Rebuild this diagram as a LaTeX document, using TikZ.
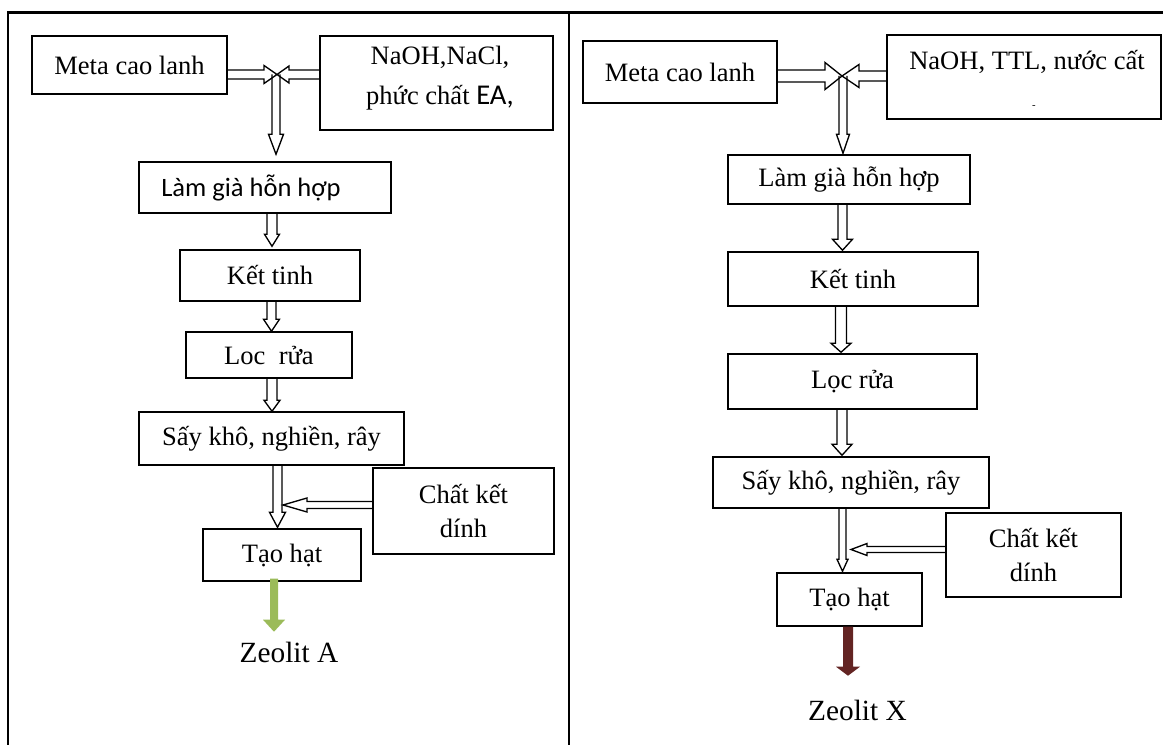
\documentclass[tikz,border=0pt]{standalone}
\usepackage{fontspec}
\setmainfont{Liberation Serif}
\newfontfamily\calibrifont{Carlito}
\usetikzlibrary{calc}
\definecolor{zgreen}{RGB}{155,187,89}
\definecolor{zred}{RGB}{99,36,35}
\newcommand\fs{\fontsize{19.9}{26}\selectfont}
% hollow block arrows: [style]{from}{tip}{shaft half}{head half}{head length} (px)
\newcommand\arrdown[6][]{\draw[hol,#1] let \p1=#2, \p2=#3 in
 (\x2-#4*0.75pt,\y1) -- (\x2-#4*0.75pt,\y2+#6*0.75pt) -- (\x2-#5*0.75pt,\y2+#6*0.75pt) -- (\x2,\y2)
 -- (\x2+#5*0.75pt,\y2+#6*0.75pt) -- (\x2+#4*0.75pt,\y2+#6*0.75pt) -- (\x2+#4*0.75pt,\y1);}
\newcommand\arrright[6][]{\draw[hol,#1] let \p1=#2, \p2=#3 in
 (\x1,\y2+#4*0.75pt) -- (\x2-#6*0.75pt,\y2+#4*0.75pt) -- (\x2-#6*0.75pt,\y2+#5*0.75pt) -- (\x2,\y2)
 -- (\x2-#6*0.75pt,\y2-#5*0.75pt) -- (\x2-#6*0.75pt,\y2-#4*0.75pt) -- (\x1,\y2-#4*0.75pt);}
\newcommand\arrleft[6][]{\draw[hol,#1] let \p1=#2, \p2=#3 in
 (\x1,\y2+#4*0.75pt) -- (\x2+#6*0.75pt,\y2+#4*0.75pt) -- (\x2+#6*0.75pt,\y2+#5*0.75pt) -- (\x2,\y2)
 -- (\x2+#6*0.75pt,\y2-#5*0.75pt) -- (\x2+#6*0.75pt,\y2-#4*0.75pt) -- (\x1,\y2-#4*0.75pt);}
\begin{document}
\begin{tikzpicture}[x=0.75pt,y=-0.75pt,
  box/.style={draw, line width=1.1pt, inner sep=0pt, font=\fs, align=center},
  bx/.style n args={2}{minimum width=#1*0.75pt, minimum height=#2*0.75pt},
  txt/.style={inner sep=0pt, font=\fs, align=center},
  hol/.style={line width=1pt, line join=miter},
  frame/.style={line width=1.6pt},
  res/.style={inner sep=0pt, font=\fontsize{22}{26}\selectfont}]
\useasboundingbox (0,0) rectangle (1163,745);
\fill[white] (0,0) rectangle (1163,745);
% frame
\draw[frame] (8,745) -- (8,12.5) -- (1163,12.5);
\draw[frame] (569,12.5) -- (569,745);

% ---------- left panel ----------
\node[box,bx={195}{58}] (mA) at (129.5,65) {Meta cao lanh};
\node[box,bx={233}{94}] (nA) at (436.5,83) {};
\node[txt,font=\fontsize{19.9}{30}\selectfont] (nAt) at (440,78) {NaOH,NaCl,\\phức chất {\calibrifont\fontsize{21.5}{30}\selectfont EA,}};
\node[box,bx={252}{51}] (lA) at (265,187.5) {\calibrifont Làm già hỗn hợp\hspace*{21pt}};
\node[box,bx={180}{51}] (kA) at (270,275.5) {Kết tinh};
\node[box,bx={166}{46}] (rA) at (269,355) {Loc~~rửa};
\node[box,bx={265}{53}] (sA) at (271.5,438.5) {Sấy khô, nghiền, rây};
\node[box,bx={181}{86}] (cA) at (463.5,511) {Chất kết\\dính};
\node[box,bx={158}{52}] (tA) at (282,555) {Tạo hạt};
\node[res] (zA) at (289,652) {Zeolit A};
\coordinate (jA) at (277,74.5);
\coordinate (jA2) at (283,505);

\arrdown{(jA)}{($(lA.north)+(11,-7)$)}{4}{7.5}{20}
\arrright{(mA.east)}{(jA)}{4.5}{9}{13}
\arrleft{(nA.west)}{(jA)}{4.5}{8.5}{12}
\arrdown{(lA.south)}{($(kA.north)+(2,-3)$)}{5}{7.5}{12}
\arrdown{(kA.south)}{($(rA.north)+(2.5,0)$)}{4.5}{8}{12}
\arrdown{(rA.south)}{($(sA.north)+(0.5,0)$)}{5}{8}{11}
\arrdown{(sA.south)}{($(tA.north)+(-4.5,-1)$)}{4.5}{8}{15}
\arrleft{(cA.west)}{(jA2)}{3.5}{7}{24}
\arrdown[draw=none,fill=zgreen]{($(tA.south)+(0,-3)$)}{($(tA.south)+(-8,50)$)}{4}{11}{12}

% ---------- right panel ----------
\node[box,bx={194}{62}] (mB) at (680,72) {Meta cao lanh};
\node[box,bx={274}{84}] (nB) at (1024,77) {};
\node[txt] (nBt) at (1027,62) {NaOH, TTL, nước cất};
\node[inner sep=0pt,font=\fontsize{8}{8}\selectfont] (nBd) at (1034,107) {-};
\node[box,bx={242}{49}] (lB) at (849,179.5) {Làm già hỗn hợp};
\node[box,bx={250}{54}] (kB) at (853,279) {Kết tinh};
\node[box,bx={249}{55}] (rB) at (852.5,381.5) {Lọc rửa};
\node[box,bx={276}{51}] (sB) at (851,482.5) {Sấy khô, nghiền, rây};
\node[box,bx={175}{84}] (cB) at (1033.5,555) {Chất kết\\dính};
\node[box,bx={145}{53}] (tB) at (849.5,599.5) {Tạo hạt};
\node[res] (zB) at (857.5,710) {Zeolit X};
\coordinate (jB) at (842,76);
\coordinate (jB2) at (851,549.5);

\arrdown{(jB)}{($(lB.north)+(-6,-1)$)}{4}{6.5}{19}
\arrright{(mB.east)}{(jB)}{6}{13.5}{17}
\arrleft{(nB.west)}{(jB)}{5}{11.5}{17}
\arrdown{(lB.south)}{($(kB.north)+(-10.5,-1)$)}{4.5}{10}{11}
\arrdown{(kB.south)}{($(rB.north)+(-11.5,-1)$)}{5.5}{10}{9}
\arrdown{(rB.south)}{($(sB.north)+(-9,-1)$)}{5}{10}{11}
\arrdown{(sB.south)}{($(tB.north)+(-7,-1)$)}{3.5}{5.5}{12}
\arrleft{(cB.west)}{(jB2)}{3}{6}{16}
\arrdown[draw=none,fill=zred]{(tB.south)}{($(tB.south)+(-1.5,49)$)}{5}{12}{9}
\end{tikzpicture}
\end{document}
